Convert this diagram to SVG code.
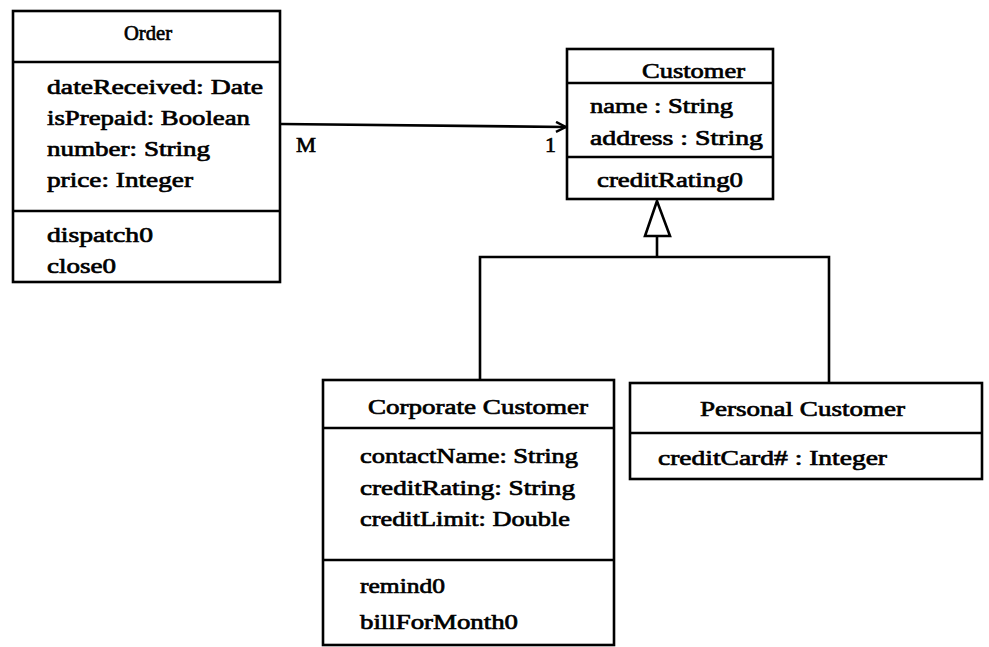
<svg xmlns="http://www.w3.org/2000/svg" width="989" height="647" viewBox="0 0 989 647">
  <style>
    .box { fill: #fff; stroke: #000; stroke-width: 2.6; }
    .div { stroke: #000; stroke-width: 2.4; fill: none; }
    .edge { stroke: #000; stroke-width: 2.6; fill: none; }
    text { font-family: "Liberation Serif", "Times New Roman", serif; font-size: 22px; fill: #000; stroke: #000; stroke-width: 0.7; }
  </style>
  <defs>
    <marker id="open-arrow" viewBox="0 0 12 12" refX="11" refY="6" markerWidth="12" markerHeight="12" markerUnits="userSpaceOnUse" orient="auto">
      <path d="M1,1 L11,6 L1,11" fill="none" stroke="#000" stroke-width="2.4"/>
    </marker>
  </defs>
  <rect width="989" height="647" fill="#fff"/>

  <!-- connectors -->
  <g id="connectors">
    <!-- association Order -> Customer -->
    <line class="edge" x1="281" y1="124" x2="566" y2="127" marker-end="url(#open-arrow)"/>
    <text x="296" y="152" textLength="20" lengthAdjust="spacingAndGlyphs">M</text>
    <text x="545" y="152">1</text>
    <!-- generalization tree -->
    <polyline class="edge" points="480,380 480,257 829,257 829,383"/>
    <line class="edge" x1="657" y1="257" x2="657" y2="236"/>
    <polygon points="657,201 645,236 670,236" fill="#fff" stroke="#000" stroke-width="2.6"/>
  </g>

  <!-- Order -->
  <g id="order">
    <rect class="box" x="13" y="11" width="267" height="271"/>
    <line class="div" x1="13" y1="62" x2="280" y2="62"/>
    <line class="div" x1="13" y1="211" x2="280" y2="211"/>
    <text x="124" y="40" textLength="48" lengthAdjust="spacingAndGlyphs">Order</text>
    <text x="47" y="94" textLength="216" lengthAdjust="spacingAndGlyphs">dateReceived: Date</text>
    <text x="47" y="125" textLength="203" lengthAdjust="spacingAndGlyphs">isPrepaid: Boolean</text>
    <text x="47" y="156" textLength="163" lengthAdjust="spacingAndGlyphs">number: String</text>
    <text x="47" y="187" textLength="146" lengthAdjust="spacingAndGlyphs">price: Integer</text>
    <text x="47" y="242" textLength="106" lengthAdjust="spacingAndGlyphs">dispatch0</text>
    <text x="47" y="273" textLength="69" lengthAdjust="spacingAndGlyphs">close0</text>
  </g>

  <!-- Customer -->
  <g id="customer">
    <rect class="box" x="567" y="49" width="206" height="150"/>
    <line class="div" x1="567" y1="83" x2="773" y2="83"/>
    <line class="div" x1="567" y1="157" x2="773" y2="157"/>
    <text x="642" y="78" textLength="103" lengthAdjust="spacingAndGlyphs">Customer</text>
    <text x="590" y="113" textLength="143" lengthAdjust="spacingAndGlyphs">name : String</text>
    <text x="590" y="145" textLength="173" lengthAdjust="spacingAndGlyphs">address : String</text>
    <text x="597" y="187" textLength="146" lengthAdjust="spacingAndGlyphs">creditRating0</text>
  </g>

  <!-- Corporate Customer -->
  <g id="corporate-customer">
    <rect class="box" x="323" y="380" width="291" height="265"/>
    <line class="div" x1="323" y1="428" x2="614" y2="428"/>
    <line class="div" x1="323" y1="560" x2="614" y2="560"/>
    <text x="368" y="414" textLength="220" lengthAdjust="spacingAndGlyphs">Corporate Customer</text>
    <text x="360" y="463" textLength="218" lengthAdjust="spacingAndGlyphs">contactName: String</text>
    <text x="360" y="495" textLength="215" lengthAdjust="spacingAndGlyphs">creditRating: String</text>
    <text x="360" y="526" textLength="210" lengthAdjust="spacingAndGlyphs">creditLimit: Double</text>
    <text x="360" y="593" textLength="85" lengthAdjust="spacingAndGlyphs">remind0</text>
    <text x="360" y="629" textLength="158" lengthAdjust="spacingAndGlyphs">billForMonth0</text>
  </g>

  <!-- Personal Customer -->
  <g id="personal-customer">
    <rect class="box" x="630" y="383" width="352" height="96"/>
    <line class="div" x1="630" y1="433" x2="982" y2="433"/>
    <text x="700" y="416" textLength="205" lengthAdjust="spacingAndGlyphs">Personal Customer</text>
    <text x="658" y="465" textLength="229" lengthAdjust="spacingAndGlyphs">creditCard# : Integer</text>
  </g>
</svg>
